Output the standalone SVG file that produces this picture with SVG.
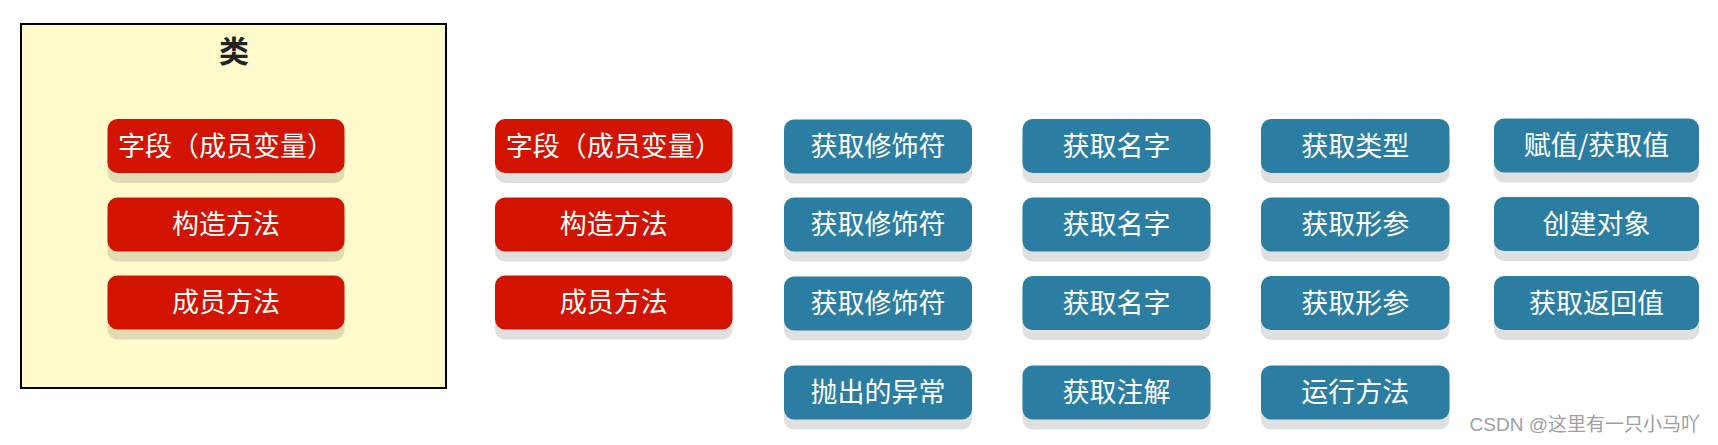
<svg xmlns="http://www.w3.org/2000/svg" width="1718" height="445" viewBox="0 0 1718 445">
<defs>
<style>
.shadow{fill:#000;fill-opacity:0.12}
.red{fill:#d21300}
.blue{fill:#2b7ea1}
.lbl{font-family:"Noto Sans CJK SC","Noto Sans",sans-serif;font-size:27px;fill:#fff;text-anchor:middle}
.title{font-family:"Noto Sans CJK SC","Noto Sans",sans-serif;font-size:30px;fill:#222;text-anchor:middle;font-weight:bold}
.wm{font-family:"Liberation Sans","Noto Sans CJK SC",sans-serif;font-size:19px;fill:#a0a0a0;text-anchor:end}
</style>
</defs>
<rect width="1718" height="445" fill="#fff"/>
<g id="class-box">
<rect x="21" y="24" width="425" height="364" fill="#fffbcc" stroke="#000" stroke-width="2"/>
<text class="title" x="234" y="62">类</text>
</g>
<g id="connectors"></g>
<g id="a1"><rect class="shadow" x="107.5" y="129" width="237" height="54" rx="10"/><rect class="red" x="107.5" y="119" width="237" height="54" rx="10"/><text class="lbl" x="226" y="155.5">字段（成员变量）</text></g>
<g id="a2"><rect class="shadow" x="107.5" y="207.5" width="237" height="54" rx="10"/><rect class="red" x="107.5" y="197.5" width="237" height="54" rx="10"/><text class="lbl" x="226" y="234">构造方法</text></g>
<g id="a3"><rect class="shadow" x="107.5" y="285.5" width="237" height="54" rx="10"/><rect class="red" x="107.5" y="275.5" width="237" height="54" rx="10"/><text class="lbl" x="226" y="312">成员方法</text></g>
<g id="b1"><rect class="shadow" x="495" y="129" width="237.5" height="54" rx="10"/><rect class="red" x="495" y="119" width="237.5" height="54" rx="10"/><text class="lbl" x="613.75" y="155.5">字段（成员变量）</text></g>
<g id="b2"><rect class="shadow" x="495" y="207.5" width="237.5" height="54" rx="10"/><rect class="red" x="495" y="197.5" width="237.5" height="54" rx="10"/><text class="lbl" x="613.75" y="234">构造方法</text></g>
<g id="b3"><rect class="shadow" x="495" y="285.5" width="237.5" height="54" rx="10"/><rect class="red" x="495" y="275.5" width="237.5" height="54" rx="10"/><text class="lbl" x="613.75" y="312">成员方法</text></g>
<g id="c1"><rect class="shadow" x="784" y="129.5" width="188" height="54" rx="10"/><rect class="blue" x="784" y="119.5" width="188" height="54" rx="10"/><text class="lbl" x="878" y="156">获取修饰符</text></g>
<g id="c2"><rect class="shadow" x="784" y="207.5" width="188" height="54" rx="10"/><rect class="blue" x="784" y="197.5" width="188" height="54" rx="10"/><text class="lbl" x="878" y="234">获取修饰符</text></g>
<g id="c3"><rect class="shadow" x="784" y="286.5" width="188" height="54" rx="10"/><rect class="blue" x="784" y="276.5" width="188" height="54" rx="10"/><text class="lbl" x="878" y="313">获取修饰符</text></g>
<g id="c4"><rect class="shadow" x="784" y="375.5" width="188" height="54" rx="10"/><rect class="blue" x="784" y="365.5" width="188" height="54" rx="10"/><text class="lbl" x="878" y="402">抛出的异常</text></g>
<g id="d1"><rect class="shadow" x="1022.5" y="129" width="188" height="54" rx="10"/><rect class="blue" x="1022.5" y="119" width="188" height="54" rx="10"/><text class="lbl" x="1116.5" y="155.5">获取名字</text></g>
<g id="d2"><rect class="shadow" x="1022.5" y="207.5" width="188" height="54" rx="10"/><rect class="blue" x="1022.5" y="197.5" width="188" height="54" rx="10"/><text class="lbl" x="1116.5" y="234">获取名字</text></g>
<g id="d3"><rect class="shadow" x="1022.5" y="286" width="188" height="54" rx="10"/><rect class="blue" x="1022.5" y="276" width="188" height="54" rx="10"/><text class="lbl" x="1116.5" y="312.5">获取名字</text></g>
<g id="d4"><rect class="shadow" x="1022.5" y="375.5" width="188" height="54" rx="10"/><rect class="blue" x="1022.5" y="365.5" width="188" height="54" rx="10"/><text class="lbl" x="1116.5" y="402">获取注解</text></g>
<g id="e1"><rect class="shadow" x="1261" y="129" width="188.5" height="54" rx="10"/><rect class="blue" x="1261" y="119" width="188.5" height="54" rx="10"/><text class="lbl" x="1355.25" y="155.5">获取类型</text></g>
<g id="e2"><rect class="shadow" x="1261" y="207.5" width="188.5" height="54" rx="10"/><rect class="blue" x="1261" y="197.5" width="188.5" height="54" rx="10"/><text class="lbl" x="1355.25" y="234">获取形参</text></g>
<g id="e3"><rect class="shadow" x="1261" y="286" width="188.5" height="54" rx="10"/><rect class="blue" x="1261" y="276" width="188.5" height="54" rx="10"/><text class="lbl" x="1355.25" y="312.5">获取形参</text></g>
<g id="e4"><rect class="shadow" x="1261" y="375.5" width="188.5" height="54" rx="10"/><rect class="blue" x="1261" y="365.5" width="188.5" height="54" rx="10"/><text class="lbl" x="1355.25" y="402">运行方法</text></g>
<g id="f1"><rect class="shadow" x="1494" y="128.5" width="205" height="54" rx="10"/><rect class="blue" x="1494" y="118.5" width="205" height="54" rx="10"/><text class="lbl" x="1596.5" y="155">赋值/获取值</text></g>
<g id="f2"><rect class="shadow" x="1494" y="207" width="205" height="54" rx="10"/><rect class="blue" x="1494" y="197" width="205" height="54" rx="10"/><text class="lbl" x="1596.5" y="233.5">创建对象</text></g>
<g id="f3"><rect class="shadow" x="1494" y="286" width="205" height="54" rx="10"/><rect class="blue" x="1494" y="276" width="205" height="54" rx="10"/><text class="lbl" x="1596.5" y="312.5">获取返回值</text></g>
<text class="wm" x="1700" y="431">CSDN @这里有一只小马吖</text>
</svg>
